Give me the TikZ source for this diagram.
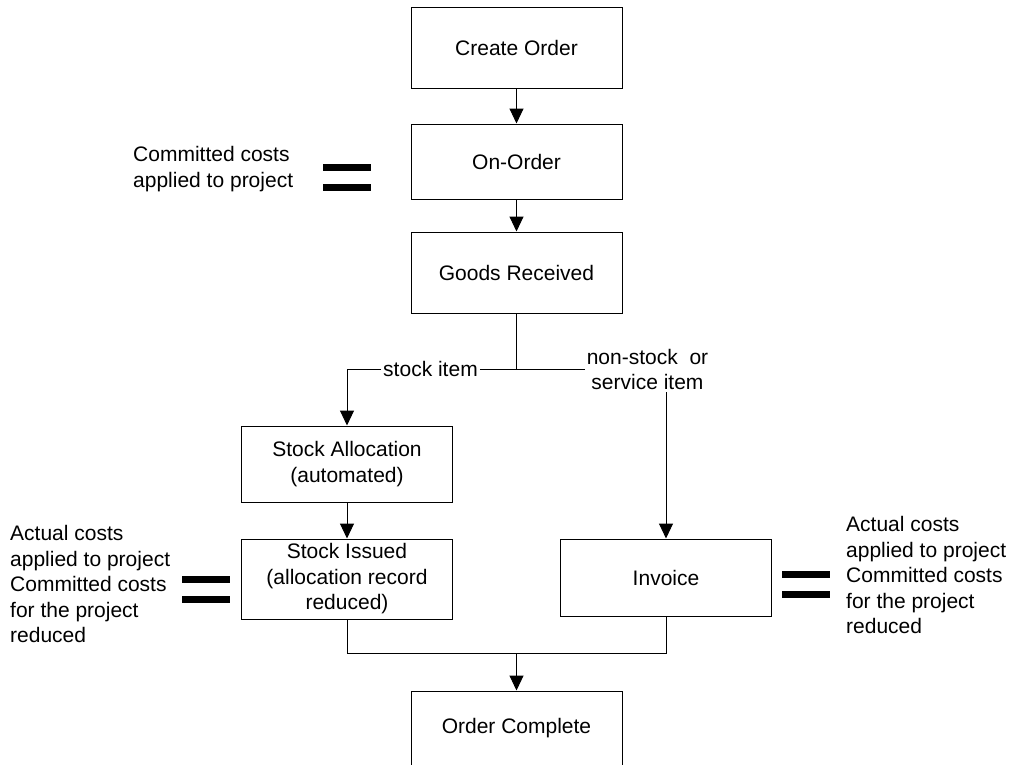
\documentclass[tikz,border=0pt]{standalone}
\usepackage{fontspec}
\setmainfont{Liberation Sans}
\usetikzlibrary{arrows.meta}

\tikzset{
  stepbox/.style={draw, line width=1pt, minimum width=211pt, align=center, inner sep=0pt},
  flow/.style={line width=1pt},
  arr/.style={flow, -{Triangle[width=14pt,length=15pt]}},
  note/.style={align=left, inner sep=0pt, anchor=west},
  eqsign/.pic={
    \fill (-24,-13.5) rectangle (24,-6.5);
    \fill (-24,6.5) rectangle (24,13.5);
  }
}

\begin{document}
\begin{tikzpicture}[x=1pt, y=-1pt, font=\fontsize{21}{25.5}\selectfont]
  \useasboundingbox (0,0) rectangle (1017,764);

  % order steps
  \node[stepbox, minimum height=81pt] (create) at (516.5,47.5) {Create Order};
  \node[stepbox, minimum height=75pt] (onorder) at (516.5,161.5) {On-Order};
  \node[stepbox, minimum height=81pt] (goods) at (516.5,272.5) {Goods Received};
  \node[stepbox, minimum height=76pt] (alloc) at (347,464) {Stock Allocation\\(automated)};
  \node[stepbox, minimum height=80pt] (issued) at (347,579) {Stock Issued\\(allocation record\\reduced)};
  \node[stepbox, minimum height=77pt] (invoice) at (666,577.5) {Invoice};
  \node[stepbox, minimum height=74pt] (complete) at (516.5,728) {Order Complete};

  % branch labels
  \node[inner sep=2pt] (stocklbl) at (430.5,369) {stock item};
  \node[inner sep=2pt, align=center] (nonstock) at (647.5,369.5) {non-stock\ \ or\\service item};

  \coordinate (split) at (goods.south |- stocklbl);
  \coordinate (join) at (516.5,653);

  \draw[arr] (create) -- (onorder);
  \draw[arr] (onorder) -- (goods);
  \draw[flow] (goods) -- (split);
  \draw[flow] (stocklbl.east) -- (nonstock.west |- stocklbl);
  \draw[arr] (stocklbl.west) -| (alloc);
  \draw[arr] (alloc) -- (issued);
  \draw[arr] (invoice.north |- nonstock.south) -- (invoice);
  \draw[flow] (issued) |- (join) -| (invoice);
  \draw[arr] (join) -- (complete);

  % cost notes
  \pic at (347,177) {eqsign};
  \pic at (206,589) {eqsign};
  \pic at (806,584) {eqsign};
  \node[note] (costtop) at (133,169) {Committed costs\\applied to project};
  \node[note] (costleft) at (10,584) {Actual costs\\applied to project\\Committed costs\\for the project\\reduced};
  \node[note] (costright) at (846,575) {Actual costs\\applied to project\\Committed costs\\for the project\\reduced};
\end{tikzpicture}
\end{document}
